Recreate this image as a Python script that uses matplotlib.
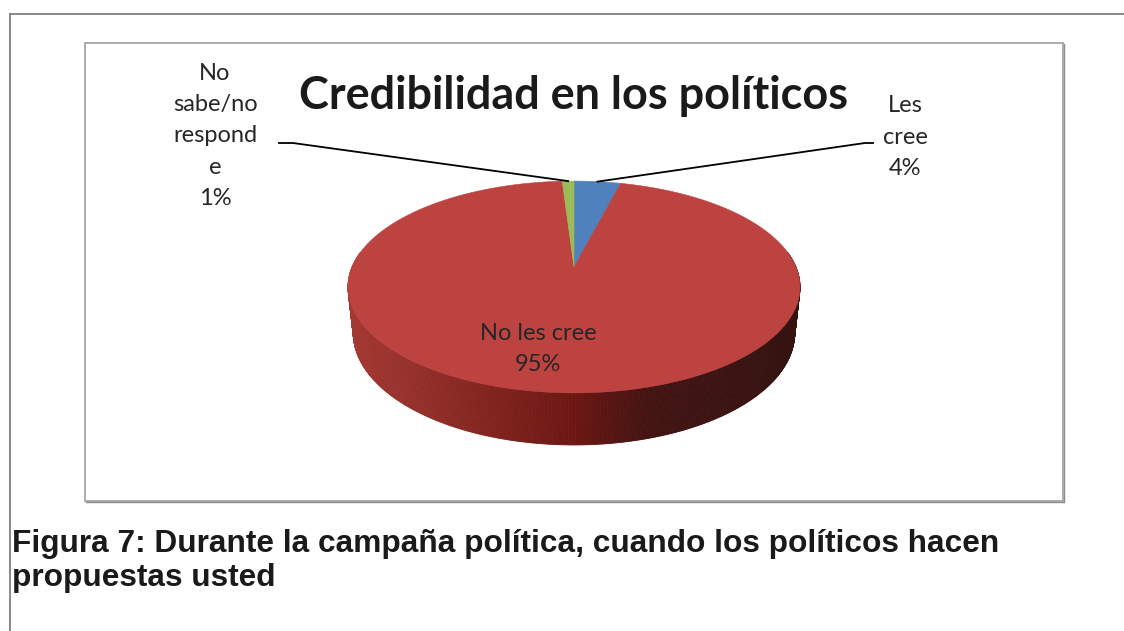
"""
Pie chart (3D look) of trust in politicians during the campaign, with the figure caption below.
"""

import matplotlib.pyplot as plt
import numpy as np
from matplotlib.patches import Polygon, Rectangle

# ------------------------------------------------------------------------
# data

slice_names = ["Les\ncree", "No les cree", "No\nsabe/no\nrespond\ne"]
slice_shares = [4, 95, 1]
slice_colors = ["#4F81BD", "#BD4340", "#9BBB59"]

chart_title = "Credibilidad en los políticos"
caption = "Figura 7: Durante la campaña política, cuando los políticos hacen\npropuestas usted"

# ------------------------------------------------------------------------
# page geometry (pixels)

W, H = 1124, 631
CX, CY = 574, 267          # projected pie centre
PHI = np.radians(27.4)     # camera elevation
DIST = 4.704               # camera distance (pie radius = 1)
FOCAL = 1044.0
THICK = 0.235              # pie height

LABEL_FONT = "Lato"


def project(x, y, d):
    """Perspective projection of a world point (x right, y up, d away from viewer)."""
    s, c = np.sin(PHI), np.cos(PHI)
    yc = d * s + y * c
    zc = DIST + d * c - y * s
    return CX + FOCAL * x / zc, CY - FOCAL * yc / zc


def rim(theta, y=0.0):
    return project(np.sin(theta), y, np.cos(theta))


def side_color(px):
    # horizontal shading of the pie wall, light on the left, near black on the right
    stops_x = [345, 450, 575, 650, 805]
    stops_rgb = np.array([[165, 58, 52], [140, 42, 36], [108, 22, 18], [66, 20, 18], [52, 19, 17]]) / 255
    return [np.interp(px, stops_x, stops_rgb[:, k]) for k in range(3)]


fig = plt.figure(figsize=(W / 100, H / 100), dpi=100)
ax = fig.add_axes([0, 0, 1, 1])
ax.set_xlim(0, W)
ax.set_ylim(H, 0)
ax.axis("off")

# page frame and chart box
ax.plot([10, W], [14, 14], color="#808080", lw=1.3)
ax.plot([10, 10], [14, H], color="#808080", lw=1.3)
ax.add_patch(Rectangle((85, 43), 978, 458, fill=False, ec="#A6A6A6", lw=1.3))
ax.plot([86, 1064, 1064], [502, 502, 44], color="#8C8C8C", lw=1.0)

fracs = np.array(slice_shares, dtype=float) / sum(slice_shares)
bounds = 2 * np.pi * np.concatenate([[0], np.cumsum(fracs)])

# wall: thin strips painted back to front
thetas = np.linspace(np.pi / 2 - 0.15, 3 * np.pi / 2 + 0.15, 400)
strips = []
for t0, t1 in zip(thetas[:-1], thetas[1:]):
    tm = 0.5 * (t0 + t1)
    x0, y0 = rim(t0)
    x1, y1 = rim(t1)
    x2, y2 = rim(t1, -THICK)
    x3, y3 = rim(t0, -THICK)
    strips.append((np.cos(tm), [(x0, y0), (x1, y1), (x2, y2), (x3, y3)], 0.5 * (x0 + x1)))
strips.sort(key=lambda s: -s[0])
for _, pts, px in strips:
    col = side_color(px)
    ax.add_patch(Polygon(pts, closed=True, fc=col, ec=col, lw=0.6))

# top faces of the slices
for i in range(len(slice_shares)):
    arc = np.linspace(bounds[i], bounds[i + 1], max(int(fracs[i] * 720), 4))
    ex, ey = rim(arc)
    ox, oy = project(0, 0, 0)
    pts = np.column_stack([np.r_[ox, ex], np.r_[oy, ey]])
    ax.add_patch(Polygon(pts, closed=True, fc=slice_colors[i], ec=slice_colors[i], lw=0.4))

mid = 0.5 * (bounds[:-1] + bounds[1:])

# leader lines for the two thin slices
bx, by = rim(mid[0])
ax.plot([bx, 865, 873], [by, 143, 143], color="black", lw=1.3)
gx, gy = rim(mid[2])
ax.plot([gx, 293, 279], [gy, 143, 143], color="black", lw=1.3)

label_style = dict(fontsize=17, family=LABEL_FONT, color="#262626",
                   ha="center", va="center", linespacing=1.6)
ax.text(905, 137, f"{slice_names[0]}\n{slice_shares[0]}%", **label_style)
ax.text(538, 349, f"{slice_names[1]}\n{slice_shares[1]}%", **label_style)
ax.text(215, 136, f"{slice_names[2]}\n{slice_shares[2]}%", **label_style)

ax.text(574, 96, chart_title, fontsize=32.4, fontweight="bold", family=LABEL_FONT,
        color="#1a1a1a", ha="center", va="center")

ax.text(12, 561, caption, fontsize=22.8, fontweight="bold", family="Liberation Sans",
        color="#1a1a1a", ha="left", va="center", linespacing=1.18)

fig.savefig("out.png", dpi=100)
